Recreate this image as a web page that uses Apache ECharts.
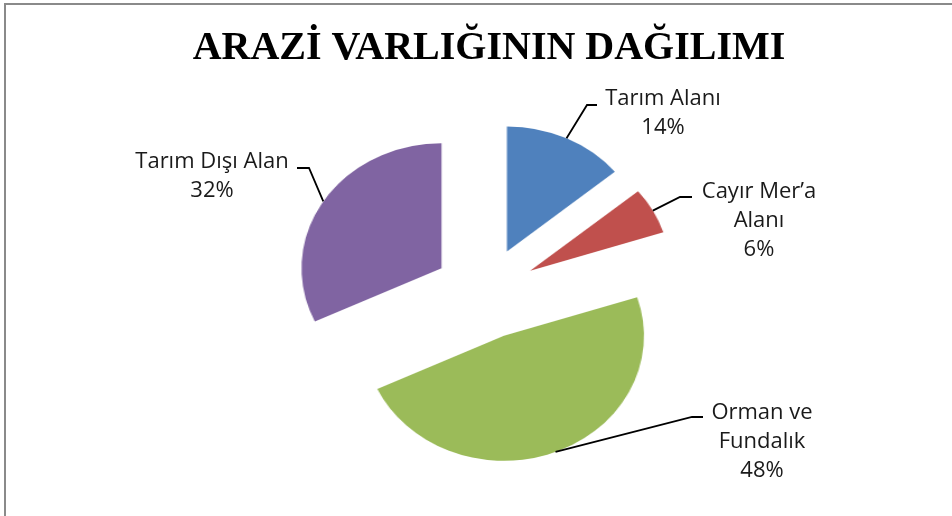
<!DOCTYPE html>
<html>
<head>
<meta charset="utf-8">
<title>Arazi Varlığının Dağılımı</title>
<script src="https://cdn.jsdelivr.net/npm/echarts@6/dist/echarts.min.js"></script>
<style>
html, body { margin: 0; padding: 0; background: #fff; }
#pie, #labels { position: absolute; left: 0; top: 0; width: 952px; height: 516px; }
/* pasta grafik yatayda gerilmiş: elips görünümü */
#pie { transform: scaleX(1.12); transform-origin: 485px 0; }
.frame {
    position: absolute; left: 4px; top: 3px; width: 948px; height: 513px;
    border-top: 2px solid #8a8a8a; border-left: 2px solid #8a8a8a;
    box-sizing: border-box; pointer-events: none;
}
</style>
</head>
<body>
<div id="pie"></div>
<div id="labels"></div>
<div class="frame"></div>
<script>
// veri
const categories = ['Tarım Alanı', 'Cayır Mer’a\nAlanı', 'Orman ve\nFundalık', 'Tarım Dışı Alan'];
const values = [14, 6, 48, 32];
const colors = ['#4f81bd', '#c0504d', '#9bbb59', '#8064a2'];

// etiket yerleşimi: metin merkezi ve kılavuz çizgi kırılma noktaları
const labelPos = [
    { x: 663, y: 113, elbow: [587, 105], end: [597, 105] },
    { x: 759, y: 221, elbow: [680, 197], end: [692, 197] },
    { x: 762, y: 442, elbow: [692, 417], end: [703, 417] },
    { x: 212, y: 176, elbow: [309, 168], end: [297, 168] }
];

const cx = 485, cy = 293, R = 125, explode = 46, stretch = 1.12;
const total = values.reduce((a, b) => a + b, 0);

function makeSeries(forLabels) {
    let acc = 0;
    return values.map((v, k) => {
        const mid = (acc + v / 2) / total * 2 * Math.PI;
        acc += v;
        const s = {
            type: 'pie',
            silent: true,
            center: [cx + explode * Math.sin(mid), cy - explode * Math.cos(mid)],
            radius: [0, R],
            startAngle: 90,
            clockwise: true,
            avoidLabelOverlap: false,
            emphasis: { disabled: true },
            itemStyle: { borderWidth: 0 },
            data: categories.map((c, i) => ({
                name: c,
                value: values[i],
                itemStyle: { color: (i === k && !forLabels) ? colors[i] : 'rgba(0,0,0,0)' },
                label: { show: forLabels && i === k },
                labelLine: { show: forLabels && i === k }
            }))
        };
        if (forLabels) {
            s.label = {
                position: 'outside',
                formatter: '{b}\n{d}%',
                fontFamily: '"Open Sans", "Noto Sans", sans-serif',
                fontSize: 22,
                lineHeight: 29,
                color: '#1a1a1a',
                align: 'center'
            };
            s.labelLine = {
                length: 15,
                length2: 10,
                lineStyle: { color: '#000', width: 1.8 }
            };
            s.labelLayout = function (params) {
                if (params.dataIndex !== k) return {};
                const p = labelPos[k];
                let start = p.elbow;
                if (params.labelLinePoints) {
                    // dilim kenarındaki bağlantı noktası, elips germesine göre
                    const a = params.labelLinePoints[0];
                    start = [cx + (a[0] - cx) * stretch, a[1]];
                }
                return {
                    x: p.x,
                    y: p.y,
                    align: 'center',
                    verticalAlign: 'middle',
                    labelLinePoints: [start, p.elbow, p.end]
                };
            };
        } else {
            s.label = { show: false };
            s.labelLine = { show: false };
        }
        return s;
    });
}

const pie = echarts.init(document.getElementById('pie'));
pie.setOption({
    animation: false,
    backgroundColor: '#fff',
    series: makeSeries(false)
});

const labels = echarts.init(document.getElementById('labels'));
labels.setOption({
    animation: false,
    backgroundColor: 'transparent',
    title: {
        text: 'ARAZİ VARLIĞININ DAĞILIMI',
        left: 484,
        textAlign: 'center',
        top: 24,
        textStyle: {
            fontFamily: '"Liberation Serif", "Times New Roman", serif',
            fontWeight: 'bold',
            fontSize: 40,
            color: '#000'
        }
    },
    series: makeSeries(true)
});
</script>
</body>
</html>
